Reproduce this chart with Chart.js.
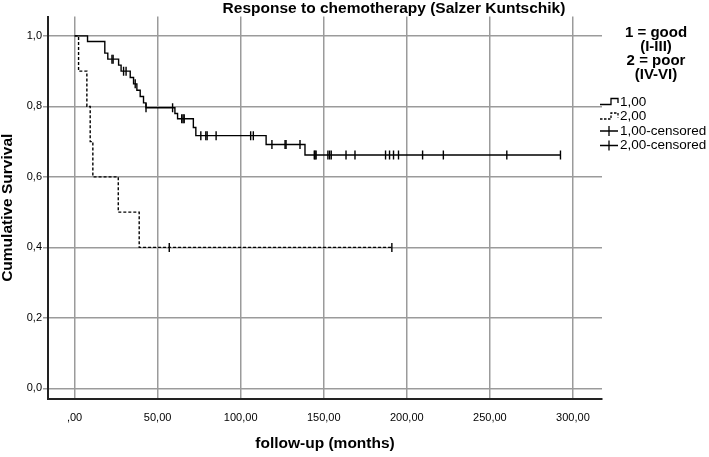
<!DOCTYPE html>
<html>
<head>
<meta charset="utf-8">
<title>Response to chemotherapy</title>
<script src="https://cdn.jsdelivr.net/npm/chart.js@4.4.1/dist/chart.umd.min.js"></script>
<style>
  html, body { margin: 0; padding: 0; background: #fff; }
  #wrap { position: relative; width: 709px; height: 457px; }
</style>
</head>
<body>
<div id="wrap"><canvas id="km"></canvas></div>
<script>
// Kaplan-Meier curves (months, cumulative survival)
const goodTimes = [0, 7.8, 18.2, 20, 26.5, 28, 33.5, 35.5, 37.5, 39.5, 41.5, 43, 60.4, 62, 71.5, 73, 115.3, 138.7, 292.5];
const goodSurv  = [1, 0.984, 0.951, 0.934, 0.917, 0.9, 0.882, 0.864, 0.846, 0.828, 0.81, 0.796, 0.78, 0.765, 0.74, 0.717, 0.692, 0.662, 0.662];
const goodCensTimes = [22.5, 23.2, 29.5, 31, 36.5, 43, 59, 64.5, 65.3, 66, 76, 79, 79.8, 85.2, 106, 107.6,
  118.8, 126.7, 127.3, 135.7, 144.3, 144.8, 145.4, 152.5, 153.5, 154.5, 163.4, 168.8, 187.2, 189.6, 192, 195,
  209.5, 222, 260.2, 292.5];
const goodCensSurv = [0.934, 0.934, 0.9, 0.9, 0.864, 0.796, 0.796, 0.765, 0.765, 0.765, 0.717, 0.717, 0.717, 0.717, 0.717, 0.717,
  0.692, 0.692, 0.692, 0.692, 0.662, 0.662, 0.662, 0.662, 0.662, 0.662, 0.662, 0.662, 0.662, 0.662, 0.662, 0.662,
  0.662, 0.662, 0.662, 0.662];

const poorTimes = [0, 2.4, 7.4, 9.4, 11, 26.3, 38.9, 191];
const poorSurv  = [1, 0.9, 0.8, 0.7, 0.6, 0.5, 0.4, 0.4];
const poorCensTimes = [57, 191];
const poorCensSurv  = [0.4, 0.4];

const xTickValues = [0, 50, 100, 150, 200, 250, 300];
const xTickLabels = [',00', '50,00', '100,00', '150,00', '200,00', '250,00', '300,00'];
const yTickValues = [0, 0.2, 0.4, 0.6, 0.8, 1];
const yTickLabels = ['0,0', '0,2', '0,4', '0,6', '0,8', '1,0'];

const chartTitle = 'Response to chemotherapy (Salzer Kuntschik)';
const xTitle = 'follow-up (months)';
const yTitle = 'Cumulative Survival';
const legendHeader = ['1 = good', '(I-III)', '2 = poor', '(IV-VI)'];
const legendLabels = ['1,00', '2,00', '1,00-censored', '2,00-censored'];

const FONT = '"Liberation Sans", Arial, sans-serif';
const GRID = '#9b9b9b';

const pts = (xs, ys) => xs.map((x, i) => ({ x: x, y: ys[i] }));

// title and legend, drawn where SPSS puts them
const kmDecor = {
  id: 'kmDecor',
  afterDraw(chart) {
    const ctx = chart.ctx;
    const left = chart.chartArea.right - 2;
    ctx.save();
    ctx.fillStyle = '#000';
    ctx.textBaseline = 'middle';
    ctx.textAlign = 'center';
    ctx.font = 'bold 15.5px ' + FONT;
    ctx.fillText(chartTitle, 394, 9);

    ctx.font = 'bold 15px ' + FONT;
    legendHeader.forEach((t, i) => ctx.fillText(t, left + 56, 33 + i * 14));

    ctx.textAlign = 'left';
    ctx.font = '13.5px ' + FONT;
    ctx.strokeStyle = '#000';
    ctx.lineWidth = 1.3;
    legendLabels.forEach((t, i) => {
      const y = 102 + i * 14.5;
      ctx.beginPath();
      if (i < 2) {
        ctx.setLineDash(i === 1 ? [2.5, 1.5] : []);
        ctx.moveTo(left, y + 2.5);
        ctx.lineTo(left + 11, y + 2.5);
        ctx.lineTo(left + 11, y - 3.5);
        ctx.lineTo(left + 18, y - 3.5);
        ctx.lineTo(left + 18, y + 1);
      } else {
        ctx.setLineDash([]);
        ctx.moveTo(left, y);
        ctx.lineTo(left + 18, y);
        ctx.moveTo(left + 9, y - 5);
        ctx.lineTo(left + 9, y + 5);
      }
      ctx.stroke();
      ctx.fillText(t, left + 20, y);
    });
    ctx.restore();
  }
};

const censStyle = {
  showLine: false,
  pointStyle: 'line',
  rotation: 90,
  pointRadius: 4.5,
  pointBorderWidth: 1.4,
  borderColor: '#000',
  backgroundColor: '#000'
};

new Chart(document.getElementById('km'), {
  type: 'line',
  data: {
    datasets: [
      { label: '1,00', data: pts(goodTimes, goodSurv), stepped: 'before', borderColor: '#000', borderWidth: 1.4, pointRadius: 0, fill: false },
      { label: '2,00', data: pts(poorTimes, poorSurv), stepped: 'before', borderColor: '#000', borderWidth: 1.4, borderDash: [3, 2], pointRadius: 0, fill: false },
      Object.assign({ label: '1,00-censored', data: pts(goodCensTimes, goodCensSurv) }, censStyle),
      Object.assign({ label: '2,00-censored', data: pts(poorCensTimes, poorCensSurv) }, censStyle)
    ]
  },
  options: {
    responsive: true,
    maintainAspectRatio: false,
    animation: false,
    layout: { padding: { top: 16.5, right: 107, bottom: 0, left: 0 } },
    plugins: {
      legend: { display: false },
      tooltip: { enabled: false },
      title: { display: false }
    },
    scales: {
      x: {
        type: 'linear',
        min: -16,
        max: 317.5,
        afterBuildTicks: s => { s.ticks = xTickValues.map(v => ({ value: v })); },
        afterFit: s => { s.height = 58; },
        ticks: {
          callback: v => xTickLabels[xTickValues.indexOf(v)],
          color: '#000',
          font: { family: FONT, size: 11 },
          padding: 12,
          maxRotation: 0
        },
        grid: { color: GRID, lineWidth: 1.5, drawTicks: false },
        border: { color: '#222', width: 2 },
        title: {
          display: true,
          text: xTitle,
          color: '#000',
          font: { family: FONT, size: 15.5, weight: 'bold' },
          padding: { top: 0, bottom: 3.7 }
        }
      },
      y: {
        type: 'linear',
        min: -0.03,
        max: 1.055,
        afterBuildTicks: s => { s.ticks = yTickValues.map(v => ({ value: v })); },
        afterFit: s => { s.width = 48; },
        ticks: {
          callback: v => yTickLabels[yTickValues.indexOf(v)],
          color: '#000',
          font: { family: FONT, size: 11 },
          padding: 1
        },
        grid: { color: GRID, lineWidth: 1.5, tickLength: 5, tickColor: GRID },
        border: { color: '#222', width: 2 },
        title: {
          display: true,
          text: yTitle,
          color: '#000',
          font: { family: FONT, size: 15.5, weight: 'bold', lineHeight: 1 },
          padding: { top: 0, bottom: 0 }
        }
      }
    }
  },
  plugins: [kmDecor]
});
</script>
</body>
</html>
